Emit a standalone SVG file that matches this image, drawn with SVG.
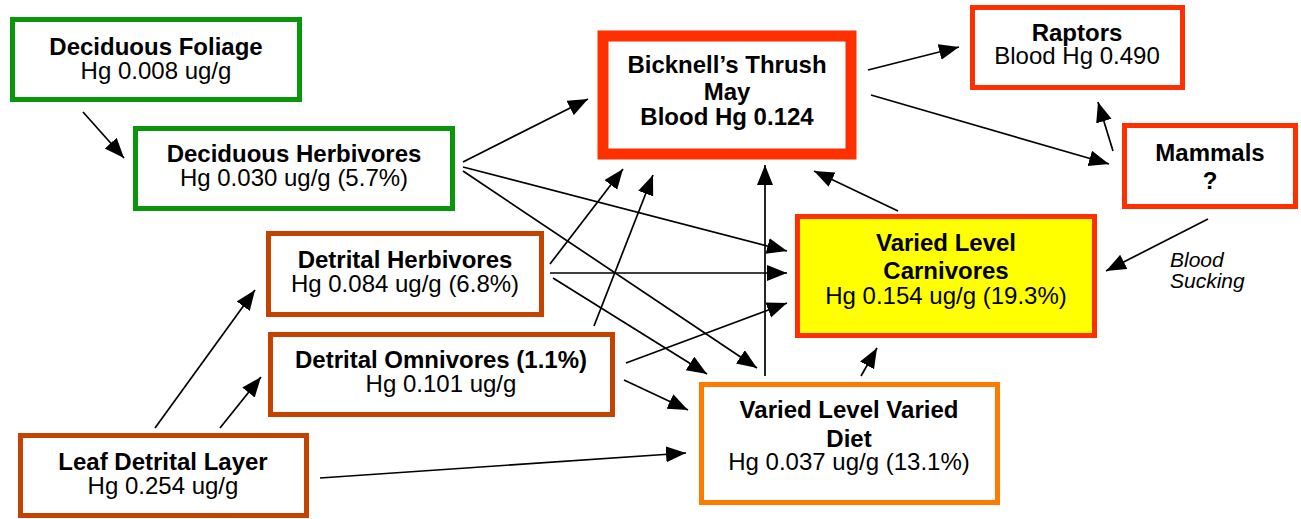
<svg xmlns="http://www.w3.org/2000/svg" width="1301" height="519" viewBox="0 0 1301 519">
<style>
.t{font-family:"Liberation Sans",Arial,Helvetica,sans-serif;font-size:24px;fill:#000;text-anchor:middle}
.b{font-weight:bold}
.g{fill:#fff;stroke:#0a960a;stroke-width:5}
.r{fill:#fff;stroke:#ff3000;stroke-width:5}
.br{fill:#fff;stroke:#c44300;stroke-width:5}
.o{fill:#fff;stroke:#ff7a00;stroke-width:5}
.y{fill:#ffff00;stroke:#ff3000;stroke-width:5}
.c line{stroke:#000;stroke-width:1.7;marker-end:url(#ah)}
.it{font-family:"Liberation Sans",Arial,Helvetica,sans-serif;font-size:21px;font-style:italic;fill:#000}
</style>
<defs>
<marker id="ah" markerUnits="userSpaceOnUse" markerWidth="22" markerHeight="18" refX="20" refY="8" orient="auto" viewBox="0 0 22 18">
<path d="M0,0 L20,8 L0,16 z" fill="#000"/>
</marker>
</defs>
<g id="connectors" class="c">
<line x1="83" y1="112" x2="124" y2="158"/>
<line x1="463" y1="162" x2="588" y2="99"/>
<line x1="463" y1="167" x2="787" y2="251"/>
<line x1="463" y1="171" x2="757" y2="368"/>
<line x1="550" y1="264" x2="623" y2="169"/>
<line x1="550" y1="273" x2="787" y2="273"/>
<line x1="553" y1="278" x2="707" y2="374"/>
<line x1="594" y1="326" x2="653" y2="175"/>
<line x1="626" y1="363" x2="787" y2="303"/>
<line x1="624" y1="380" x2="688" y2="410"/>
<line x1="155" y1="428" x2="255" y2="290"/>
<line x1="220" y1="428" x2="261" y2="377"/>
<line x1="320" y1="478" x2="686" y2="453"/>
<line x1="765" y1="376" x2="765" y2="165"/>
<line x1="861" y1="376" x2="877" y2="348"/>
<line x1="898" y1="211" x2="814" y2="171"/>
<line x1="868" y1="70" x2="959" y2="47"/>
<line x1="871" y1="95" x2="1109" y2="164"/>
<line x1="1113" y1="151" x2="1098" y2="102"/>
<line x1="1208" y1="219" x2="1106" y2="271"/>
</g>
<g id="deciduous-foliage">
<rect class="g" x="12.5" y="19.5" width="287" height="80"/>
<text class="t b" x="156" y="55">Deciduous Foliage</text>
<text class="t" x="156" y="79">Hg 0.008 ug/g</text>
</g>
<g id="deciduous-herbivores">
<rect class="g" x="135.5" y="128.5" width="317" height="80"/>
<text class="t b" x="294" y="162">Deciduous Herbivores</text>
<text class="t" x="294" y="186">Hg 0.030 ug/g (5.7%)</text>
</g>
<g id="bicknells-thrush">
<rect x="603" y="36" width="248" height="118" fill="#fff" stroke="#ff3000" stroke-width="11"/>
<text class="t b" x="727" y="73">Bicknell’s Thrush</text>
<text class="t b" x="727" y="100">May</text>
<text class="t b" x="727" y="125">Blood Hg 0.124</text>
</g>
<g id="raptors">
<rect class="r" x="972.5" y="7.5" width="210" height="80"/>
<text class="t b" x="1077" y="41">Raptors</text>
<text class="t" x="1077" y="64">Blood Hg 0.490</text>
</g>
<g id="mammals">
<rect class="r" x="1124.5" y="125.5" width="171" height="81"/>
<text class="t b" x="1210" y="161">Mammals</text>
<text class="t b" x="1210" y="189">?</text>
</g>
<g id="varied-level-carnivores">
<rect class="y" x="797.5" y="216.5" width="297" height="119"/>
<text class="t b" x="946" y="251">Varied Level</text>
<text class="t b" x="946" y="279">Carnivores</text>
<text class="t" x="946" y="304">Hg 0.154 ug/g (19.3%)</text>
</g>
<g id="blood-sucking-label">
<text class="it" x="1170" y="267">Blood</text>
<text class="it" x="1170" y="288">Sucking</text>
</g>
<g id="detrital-herbivores">
<rect class="br" x="268.5" y="233.5" width="273" height="81"/>
<text class="t b" x="405" y="268">Detrital Herbivores</text>
<text class="t" x="405" y="292">Hg 0.084 ug/g (6.8%)</text>
</g>
<g id="detrital-omnivores">
<rect class="br" x="270.5" y="334.5" width="342" height="80"/>
<text class="t b" x="441" y="368">Detrital Omnivores (1.1%)</text>
<text class="t" x="441" y="392">Hg 0.101 ug/g</text>
</g>
<g id="leaf-detrital-layer">
<rect class="br" x="20.5" y="435.5" width="286" height="80"/>
<text class="t b" x="163" y="470">Leaf Detrital Layer</text>
<text class="t" x="163" y="494">Hg 0.254 ug/g</text>
</g>
<g id="varied-level-varied-diet">
<rect class="o" x="701.5" y="384.5" width="296" height="118"/>
<text class="t b" x="849" y="418">Varied Level Varied</text>
<text class="t b" x="849" y="447">Diet</text>
<text class="t" x="849" y="470">Hg 0.037 ug/g (13.1%)</text>
</g>
</svg>
